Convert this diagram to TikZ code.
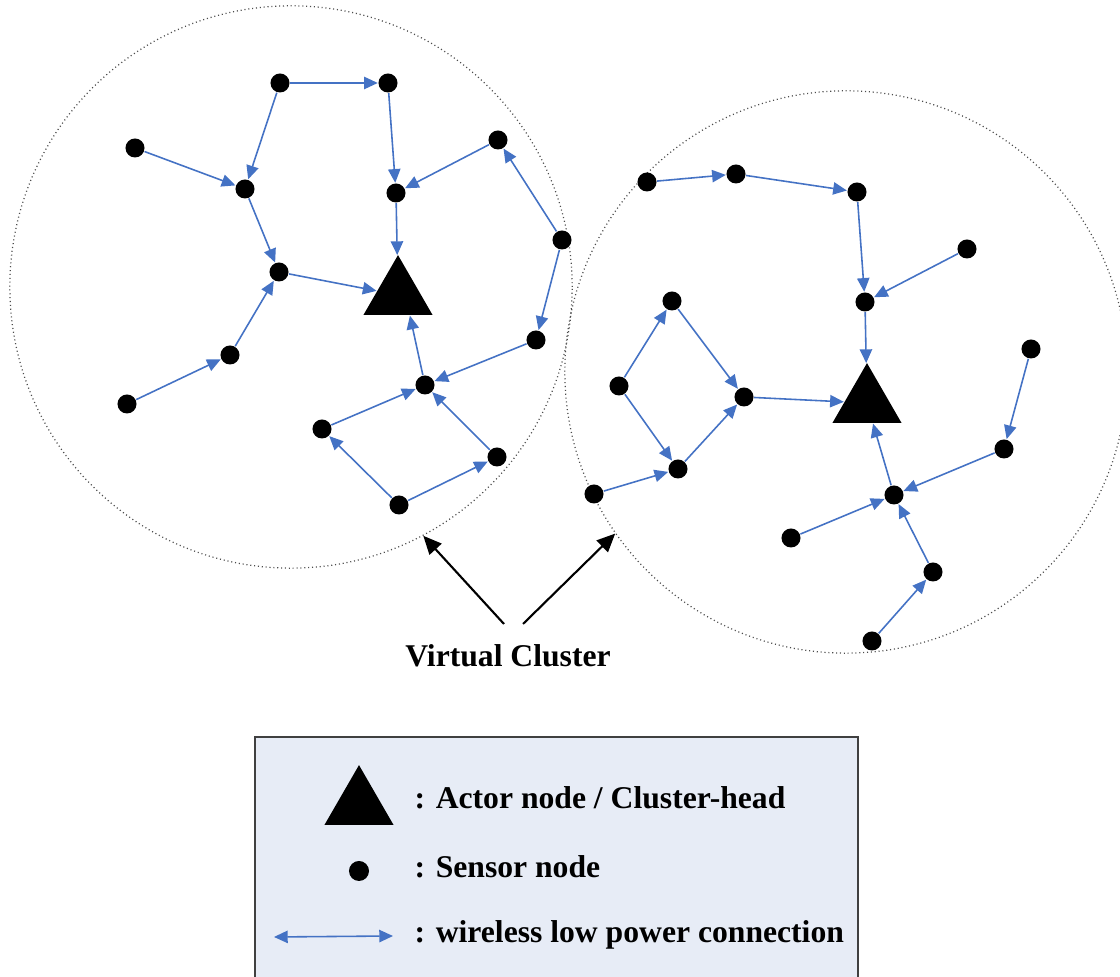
\documentclass[tikz,border=0pt]{standalone}
\usepackage{fontspec}
\setmainfont{Liberation Serif}
\usetikzlibrary{arrows.meta}
\usetikzlibrary{shapes.geometric}
\definecolor{wblue}{HTML}{4472C4}
\definecolor{legfill}{HTML}{E7ECF6}
\tikzset{sensor/.style = {fill, circle, inner sep = 0, minimum size = 0.19cm}}
\tikzset{actor/.style = {fill, regular polygon, regular polygon sides = 3,
                         inner sep = 0, minimum size = 0.797cm}}
\tikzset{link/.style = {draw = wblue, line width = 0.45pt,
                        -{Triangle[length=3.9pt, width=3.5pt]}}}
\tikzset{vcluster/.style = {circle, draw = black!70, line width = 0.35pt,
                            dash pattern = on 0.3pt off 0.8pt,
                            inner sep = 0, minimum size = 5.62cm}}
\tikzset{pointer/.style = {line width = 0.6pt, -{Triangle[length=5.2pt, width=4.6pt]}}}
\tikzset{lbl/.style = {font = \fontsize{9}{10}\selectfont\bfseries, inner sep = 0}}

\begin{document}
\begin{tikzpicture}[x=0.01cm, y=-0.01cm]
  \useasboundingbox (0,0) rectangle (1120,977);
  % the two virtual clusters
  \node[vcluster] (lc) at (291,287) {};
  \node[vcluster] (rc) at (846,372) {};
  % left cluster
  \node[actor] (tl) at (398,295) {};
  \foreach \n/\x/\y in {l1/280/83, l2/388/83, l3/135/148, l4/245/189,
                        l5/396/193, l6/498/140, l7/562/240, l8/279/272,
                        l9/230/355, l10/536/340, l11/127/404, l12/425/385,
                        l13/322/429, l14/497/457, l15/399/505}
    \node[sensor] (\n) at (\x,\y) {};
  % right cluster
  \node[actor] (tr) at (867,403) {};
  \foreach \n/\x/\y in {r1/647/182, r2/736/174, r3/857/192, r4/967/249,
                        r5/865/302, r6/672/301, r7/619/386, r8/744/397,
                        r9/1031/349, r10/1004/449, r11/678/469, r12/594/494,
                        r13/894/495, r14/791/538, r15/933/572, r16/872/641}
    \node[sensor] (\n) at (\x,\y) {};
  % wireless links
  \foreach \a/\b in {l1/l2, l1/l4, l3/l4, l2/l5, l6/l5, l4/l8, l5/tl, l8/tl,
                     l9/l8, l11/l9, l7/l6, l7/l10, l10/l12, l13/l12, l14/l12,
                     l15/l13, l15/l14,
                     r1/r2, r2/r3, r3/r5, r4/r5, r5/tr, r7/r6, r6/r8, r7/r11,
                     r12/r11, r11/r8, r8/tr, r9/r10, r10/r13, r13/tr, r14/r13,
                     r15/r13, r16/r15}
    \draw[link] (\a) -- (\b);
  \draw[link] (l12) -- (tl.-60);
  % label with its pointers
  \node[lbl, anchor=base] (vc) at (508,667) {Virtual Cluster};
  \coordinate (vcl) at (504,624);
  \coordinate (vcr) at (523,624);
  \draw[pointer] (vcl) -- (lc.-62.5);
  \draw[pointer] (vcr) -- (rc.-145.8);
  % legend
  \draw[fill=legfill, draw=black!75, line width=0.4pt] (255,737) rectangle (858,995);
  \node[actor] (legtri) at (359,805) {};
  \node[sensor, minimum size=0.2cm] (legdot) at (359,871) {};
  \coordinate (lega) at (274,937);
  \coordinate (legb) at (393,936);
  \draw[draw=wblue, line width=0.45pt, {Triangle[length=3.9pt, width=3.5pt]}-{Triangle[length=3.9pt, width=3.5pt]}] (lega) -- (legb);
  \node[lbl, anchor=base west] (legactor) at (414,809) {: Actor node / Cluster-head};
  \node[lbl, anchor=base west] (legsensor) at (414,878) {: Sensor node};
  \node[lbl, anchor=base west] (leglink) at (414,943) {: wireless low power connection};
\end{tikzpicture}
\end{document}
